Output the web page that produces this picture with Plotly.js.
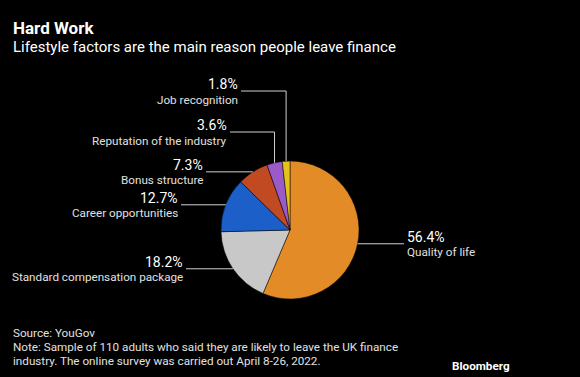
<!DOCTYPE html>
<html>
<head>
<meta charset="utf-8">
<script src="https://cdn.plot.ly/plotly-3.0.1.min.js"></script>
<style>html,body{margin:0;padding:0;background:#000;}#chart{width:580px;height:377px;}</style>
</head>
<body>
<div id="chart"></div>
<script>
// ---- data ----
const categories = ["Quality of life", "Standard compensation package", "Career opportunities", "Bonus structure", "Reputation of the industry", "Job recognition"];
const shares = [56.4, 18.2, 12.7, 7.3, 3.6, 1.8];
const valueLabels = ["56.4%", "18.2%", "12.7%", "7.3%", "3.6%", "1.8%"];
const colors = ["#e38b26", "#c8c8c8", "#1c5fc8", "#c24a22", "#9a5ac8", "#e3c21a"];
const footerLines = [
  "Source: YouGov",
  "Note: Sample of 110 adults who said they are likely to leave the UK finance",
  "industry. The online survey was carried out April 8-26, 2022."
];

// ---- layout constants (pixels) ----
const W = 580, H = 377;
const cx = 290, cy = 230, R = 69;
const labelPos = [
  {side: "left-of-text", x: 404, y: null},
  {side: "right", x: 186, y: null},
  {side: "right", x: 181, y: null},
  {side: "right", x: 206, y: null},
  {side: "right", x: 230, y: 132},
  {side: "right", x: 241, y: 91}
];

const px = x => x / W;
const py = y => 1 - y / H;
const FONT = "Roboto, sans-serif";

const annotations = [];
const shapes = [];
const total = shares.reduce((a, b) => a + b, 0);
let cum = 0;
shares.forEach((v, i) => {
  const mid = (cum + v / 2) / total * 2 * Math.PI; // clockwise from top
  cum += v;
  const ax = cx + R * Math.sin(mid);
  const ay = cy - R * Math.cos(mid);
  const lp = labelPos[i];
  const lineStyle = {color: "#d0d0d0", width: 1};
  let ly;
  if (lp.y === null) {
    ly = ay;
    shapes.push({type: "line", xref: "paper", yref: "paper", x0: px(ax), y0: py(ay), x1: px(lp.x), y1: py(ly), line: lineStyle});
  } else {
    ly = lp.y;
    shapes.push({type: "line", xref: "paper", yref: "paper", x0: px(ax), y0: py(ay), x1: px(ax), y1: py(ly), line: lineStyle});
    shapes.push({type: "line", xref: "paper", yref: "paper", x0: px(ax), y0: py(ly), x1: px(lp.x), y1: py(ly), line: lineStyle});
  }
  const isLeft = lp.side === "left-of-text";
  const tx = isLeft ? lp.x + 1 : lp.x - 1;
  const anchor = isLeft ? "left" : "right";
  annotations.push({xref: "paper", yref: "paper", x: px(tx), y: py(ly - 7), xanchor: anchor, yanchor: "middle",
    text: valueLabels[i], showarrow: false, font: {family: FONT, size: 14, color: "#ffffff"}});
  annotations.push({xref: "paper", yref: "paper", x: px(tx), y: py(ly + 8.5), xanchor: anchor, yanchor: "middle",
    text: categories[i], showarrow: false, font: {family: FONT, size: 11.7, color: "#e0e0e0"}});
});

// titles and footer
annotations.push({xref: "paper", yref: "paper", x: px(11), y: py(28), xanchor: "left", yanchor: "middle",
  text: "<b>Hard Work</b>", showarrow: false, font: {family: FONT, size: 17, color: "#ffffff"}});
annotations.push({xref: "paper", yref: "paper", x: px(11), y: py(47), xanchor: "left", yanchor: "middle",
  text: "Lifestyle factors are the main reason people leave finance", showarrow: false,
  font: {family: FONT, size: 15, color: "#ffffff"}});
footerLines.forEach((t, i) => {
  annotations.push({xref: "paper", yref: "paper", x: px(11), y: py(333 + i * 14), xanchor: "left", yanchor: "middle",
    text: t, showarrow: false, font: {family: FONT, size: 11.7, color: "#e0e0e0"}});
});
annotations.push({xref: "paper", yref: "paper", x: px(512), y: py(366), xanchor: "right", yanchor: "middle",
  text: "<b>Bloomberg</b>", showarrow: false, font: {family: FONT, size: 11.7, color: "#ffffff"}});

const trace = {
  type: "pie",
  labels: categories,
  values: shares,
  sort: false,
  direction: "clockwise",
  rotation: 0,
  textinfo: "none",
  hoverinfo: "label+percent",
  marker: {colors: colors, line: {color: "#000", width: 0.5}},
  domain: {x: [px(cx - R), px(cx + R)], y: [py(cy + R), py(cy - R)]}
};

const layout = {
  width: W, height: H,
  margin: {l: 0, r: 0, t: 0, b: 0},
  paper_bgcolor: "#000", plot_bgcolor: "#000",
  showlegend: false,
  annotations: annotations,
  shapes: shapes
};

Plotly.newPlot("chart", [trace], layout, {displayModeBar: false, staticPlot: true});
</script>
</body>
</html>
